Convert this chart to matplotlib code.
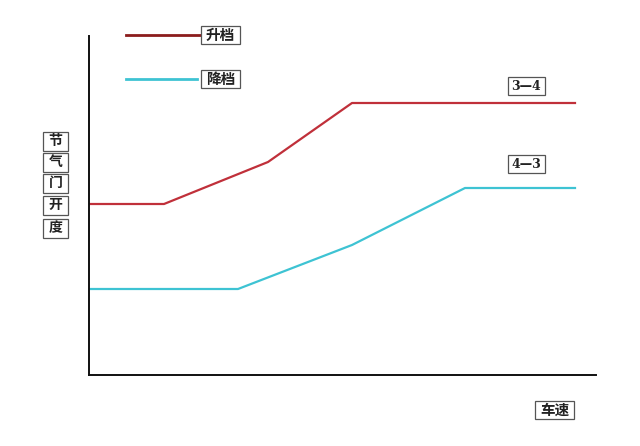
import matplotlib
matplotlib.use('Agg')
import matplotlib.pyplot as plt
from matplotlib.patches import Rectangle

plt.rcParams['font.family'] = ['Noto Sans CJK SC', 'DejaVu Sans']

# 车速 / 节气门开度 (图上像素换算的相对值)
up_x = [0, 75, 179, 263, 486]
up_y = [171, 171, 213, 272, 272]
down_x = [0, 149, 263, 376, 486]
down_y = [86, 86, 130, 187, 187]

y_chars = ['节', '气', '门', '开', '度']

red = '#c0303a'
cyan = '#3ec3d3'

fig = plt.figure(figsize=(6.4, 4.46), dpi=100)
ax = fig.add_axes([89/640, 1-375/446, 507/640, 339/446])
ax.set_xlim(0, 507)
ax.set_ylim(0, 339)

ax.plot(up_x, up_y, color=red, lw=1.6)
ax.plot(down_x, down_y, color=cyan, lw=1.6)

for s in ['top', 'right']:
    ax.spines[s].set_visible(False)
for s in ['left', 'bottom']:
    ax.spines[s].set_linewidth(1.4)
    ax.spines[s].set_color('#111111')
ax.set_xticks([])
ax.set_yticks([])


def label_box(cx, cy, w, h, txt, size=10.5, family=None):
    ax.add_patch(Rectangle((cx - w/2, cy - h/2), w, h, fc='white', ec='#555555',
                           lw=0.9, clip_on=False, zorder=3))
    kw = {}
    if family:
        kw['family'] = family
    ax.text(cx, cy, txt, fontsize=size, weight='bold', ha='center', va='center',
            clip_on=False, zorder=4, color='#222222', **kw)


# 图例
ax.plot([37, 111], [340, 340], color='#8b1c1c', lw=2, clip_on=False)
ax.plot([37, 108], [296, 296], color=cyan, lw=2, clip_on=False)
label_box(131.5, 340, 39, 18, '升档')
label_box(131.5, 296, 39, 18, '降档')

# 曲线标注
serif = ['DejaVu Serif', 'Noto Sans CJK SC']
label_box(437.5, 289, 37, 18, '3—4', size=9, family=serif)
label_box(437.5, 211, 37, 18, '4—3', size=9, family=serif)

# 纵轴标签
y_pos = [234, 213, 192, 170, 147]
for ch, yy in zip(y_chars, y_pos):
    label_box(-33.5, yy, 25, 19, ch, size=10)

# 横轴标签
label_box(465.5, -35, 39, 18, '车速')

fig.savefig('out.png', dpi=100)
